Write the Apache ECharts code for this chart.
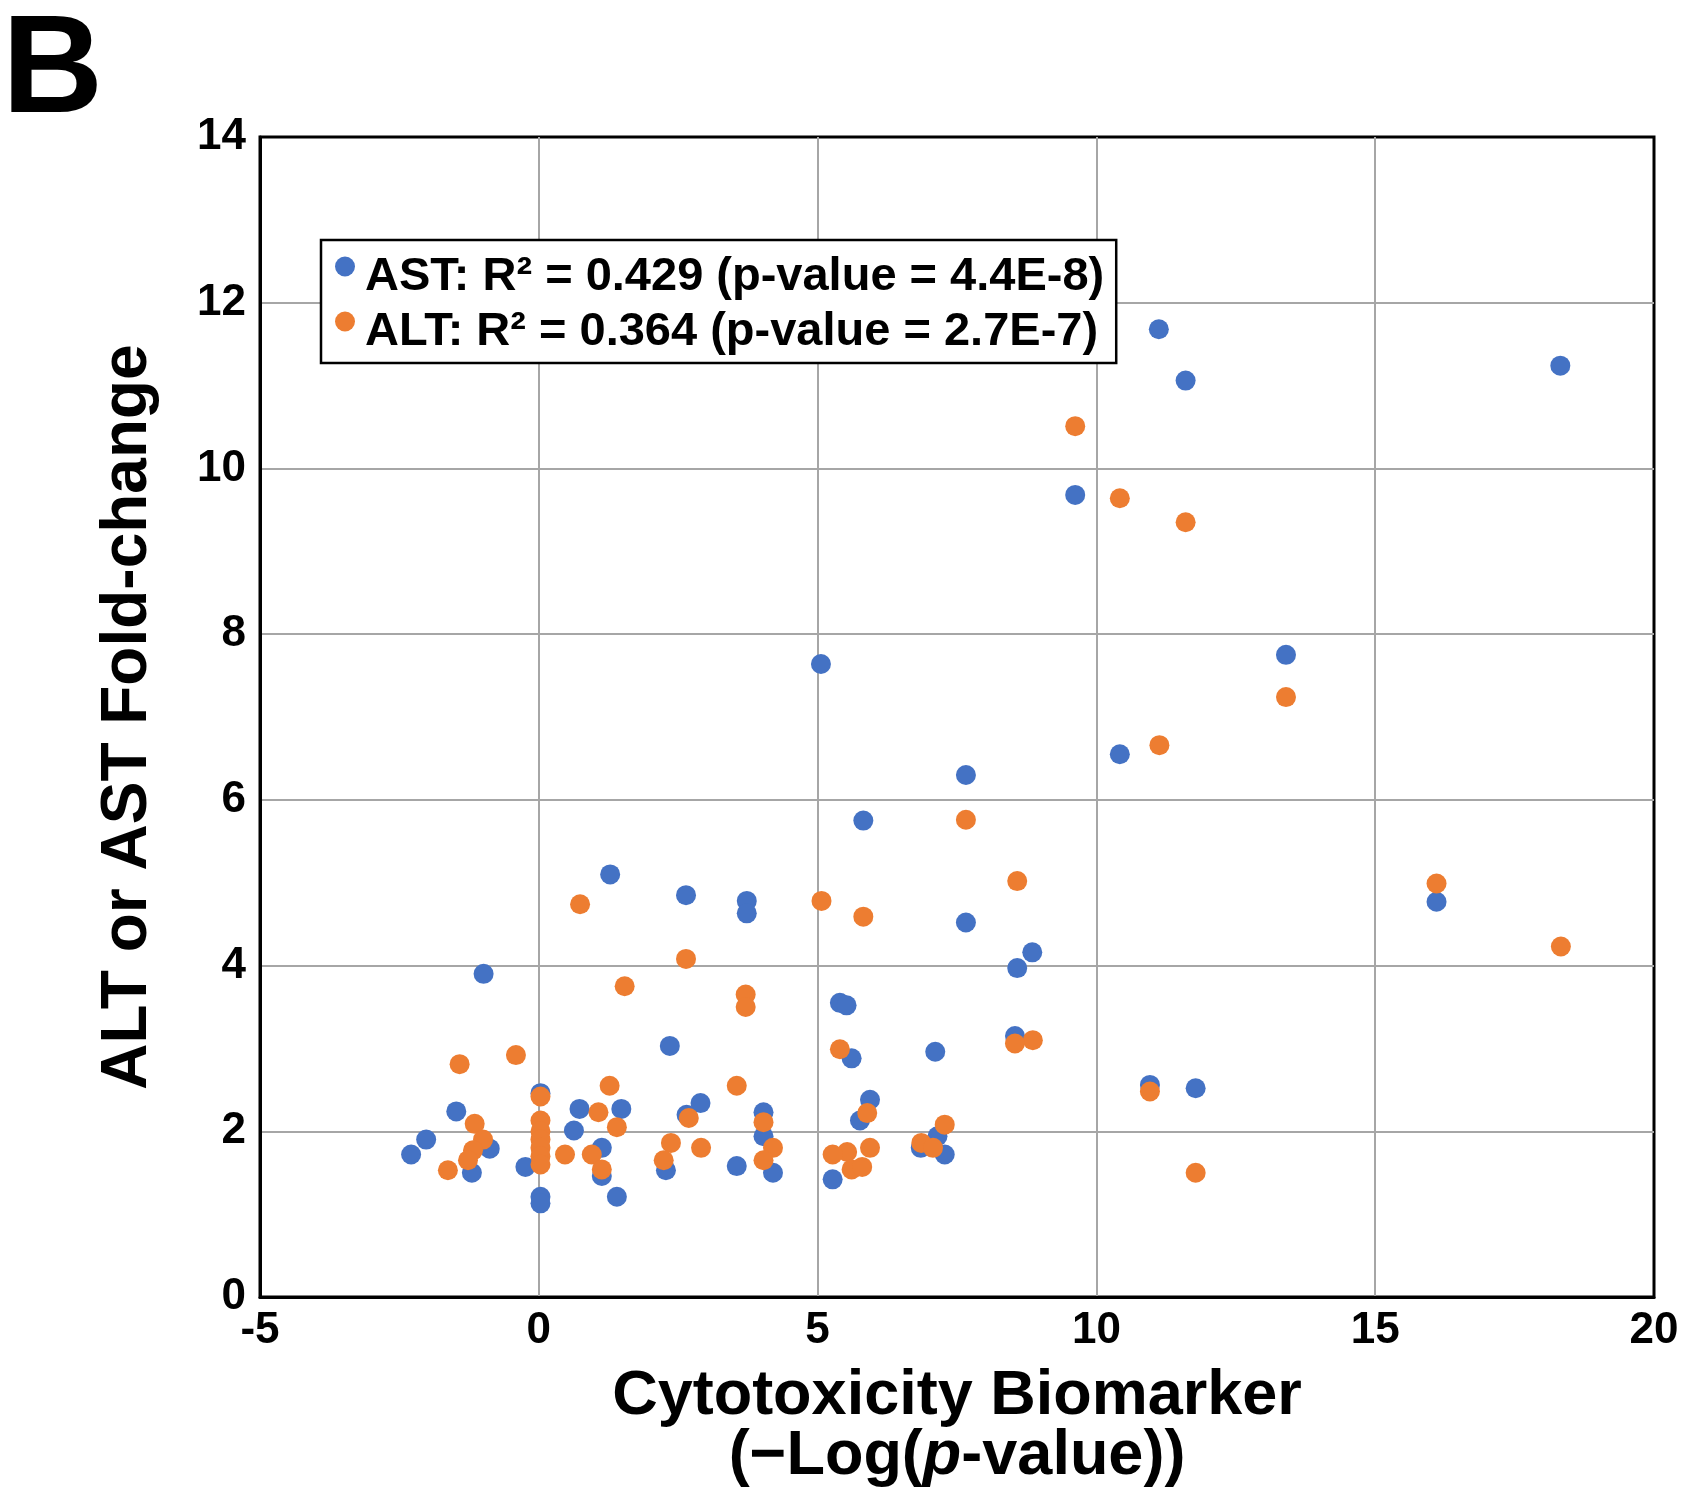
<!DOCTYPE html>
<html><head><meta charset="utf-8">
<script src="https://cdn.jsdelivr.net/npm/echarts@6/dist/echarts.min.js"></script>
<style>html,body{margin:0;padding:0;background:#fff}#c{width:1692px;height:1500px}</style>
</head><body><div id="c"></div>
<script>
// AST (blue) points
const astX = [18.32, 11.12, 11.60, 9.62, 13.40, 5.06, 10.42, 7.66, 5.82, 1.28,
  2.64, 3.73, 3.73, 16.10, 7.66, 8.85, 8.58, -0.99, 5.40, 5.52,
  2.35, 7.11, 5.61, 8.54, 10.96, 11.78, 5.94, 2.90, 1.48, 0.73,
  -1.48, 4.03, 0.03, 5.76, 0.63, -2.02, 7.15, 4.03, -2.29, -0.88,
  1.13, 6.85, 7.28, -0.24, -1.20, 1.13, 2.28, 3.55, 4.20, 5.27,
  1.40, 0.03, 0.03, 2.65];
const astY = [11.24, 11.68, 11.06, 9.68, 7.75, 7.64, 6.55, 6.30, 5.75, 5.10,
  4.85, 4.78, 4.63, 4.77, 4.52, 4.16, 3.97, 3.90, 3.55, 3.52,
  3.03, 2.96, 2.88, 3.15, 2.56, 2.52, 2.38, 2.34, 2.27, 2.27,
  2.24, 2.23, 2.46, 2.13, 2.01, 1.90, 1.94, 1.94, 1.72, 1.79,
  1.80, 1.80, 1.72, 1.57, 1.50, 1.46, 1.53, 1.58, 1.50, 1.42,
  1.21, 1.21, 1.13, 2.20];
// ALT (orange) points
const altX = [9.62, 10.42, 11.60, 13.40, 11.13, 7.66, 8.58, 16.10, 5.07, 0.74,
  5.82, 18.33, 2.64, 1.54, 3.71, 3.71, 8.86, 8.54, 5.40, -0.41,
  -1.42, 1.27, 3.55, 10.96, 0.03, 1.07, 5.89, 2.69, 4.03, -1.15,
  7.28, 1.40, 0.03, 0.03, 0.03, 0.03, 0.03, 0.03, -1.00, 2.37,
  6.86, 2.91, 4.20, 5.94, 7.07, -1.18, 5.53, 0.47, 0.95, 5.27,
  -1.27, 2.24, 4.03, -1.63, 1.13, 5.61, 5.80, 11.78];
const altY = [10.51, 9.64, 9.35, 7.24, 6.66, 5.76, 5.02, 4.99, 4.78, 4.74,
  4.59, 4.23, 4.08, 3.75, 3.65, 3.50, 3.10, 3.06, 2.99, 2.92,
  2.81, 2.55, 2.55, 2.48, 2.42, 2.23, 2.22, 2.16, 2.11, 2.09,
  2.08, 2.05, 2.13, 2.00, 1.90, 1.80, 1.70, 1.60, 1.90, 1.86,
  1.86, 1.80, 1.80, 1.80, 1.80, 1.77, 1.75, 1.72, 1.72, 1.72,
  1.65, 1.65, 1.65, 1.53, 1.54, 1.54, 1.57, 1.50];

const seriesNames = ['AST: R\u00B2 = 0.429 (p-value = 4.4E-8)', 'ALT: R\u00B2 = 0.364 (p-value = 2.7E-7)'];
const seriesColors = ['#4472C4', '#ED7D31'];
const xAxisTitle = 'Cytotoxicity Biomarker\n(\u2212Log({i|p}-value))';
const yAxisTitle = 'ALT or AST Fold-change';
const panelLabel = 'B';

const FONT = '"Liberation Sans", Arial, sans-serif';
const zip = (xs, ys) => xs.map((x, i) => [x, ys[i]]);
const dotIcon = 'path://M0,42 M0,10 A10,10 0 1,1 20,10 A10,10 0 1,1 0,10 Z';

const chart = echarts.init(document.getElementById('c'), null, {renderer: 'canvas'});
chart.setOption({
  backgroundColor: '#fff',
  animation: false,
  title: {
    text: panelLabel, left: -3, top: -2,
    textStyle: {fontSize: 140, fontWeight: 'bold', fontFamily: FONT, color: '#000'}
  },
  grid: {left: 260, right: 38, top: 137, bottom: 203, show: true, borderColor: '#000', borderWidth: 3, backgroundColor: 'transparent'},
  legend: {
    orient: 'vertical', left: 321, top: 240,
    data: seriesNames,
    icon: dotIcon, itemWidth: 20, itemHeight: 42, itemGap: 8,
    padding: [14, 12, 7, 14],
    backgroundColor: '#fff', borderColor: '#000', borderWidth: 2.5,
    textStyle: {fontSize: 47, fontWeight: 'bold', fontFamily: FONT, color: '#000', lineHeight: 47, padding: [0, 0, 0, 5]}
  },
  xAxis: {
    type: 'value', min: -5, max: 20, interval: 5,
    axisLine: {show: true, onZero: false, lineStyle: {color: '#000', width: 3}},
    axisTick: {show: false},
    splitLine: {show: true, showMinLine: false, showMaxLine: false, lineStyle: {color: '#a6a6a6', width: 2}},
    axisLabel: {fontSize: 44, fontWeight: 'bold', fontFamily: FONT, color: '#000', margin: 12},
    name: xAxisTitle, nameLocation: 'middle', nameGap: 70,
    nameTextStyle: {fontSize: 63, fontWeight: 'bold', fontFamily: FONT, color: '#000', lineHeight: 60, align: 'center',
      rich: {i: {fontSize: 63, fontWeight: 'bold', fontStyle: 'italic', fontFamily: FONT, color: '#000', lineHeight: 60}}}
  },
  yAxis: {
    type: 'value', min: 0, max: 14, interval: 2,
    axisLine: {show: true, onZero: false, lineStyle: {color: '#000', width: 3}},
    axisTick: {show: false},
    splitLine: {show: true, showMinLine: false, showMaxLine: false, lineStyle: {color: '#a6a6a6', width: 2}},
    axisLabel: {fontSize: 44, fontWeight: 'bold', fontFamily: FONT, color: '#000', margin: 14},
    name: yAxisTitle, nameLocation: 'middle', nameGap: 100, nameRotate: 90,
    nameTextStyle: {fontSize: 64, fontWeight: 'bold', fontFamily: FONT, color: '#000'}
  },
  series: [
    {name: seriesNames[0], type: 'scatter', data: zip(astX, astY), symbol: 'circle', symbolSize: 20,
     itemStyle: {color: seriesColors[0], opacity: 1}, z: 2},
    {name: seriesNames[1], type: 'scatter', data: zip(altX, altY), symbol: 'circle', symbolSize: 20,
     itemStyle: {color: seriesColors[1], opacity: 1}, z: 3}
  ]
});
</script></body></html>
